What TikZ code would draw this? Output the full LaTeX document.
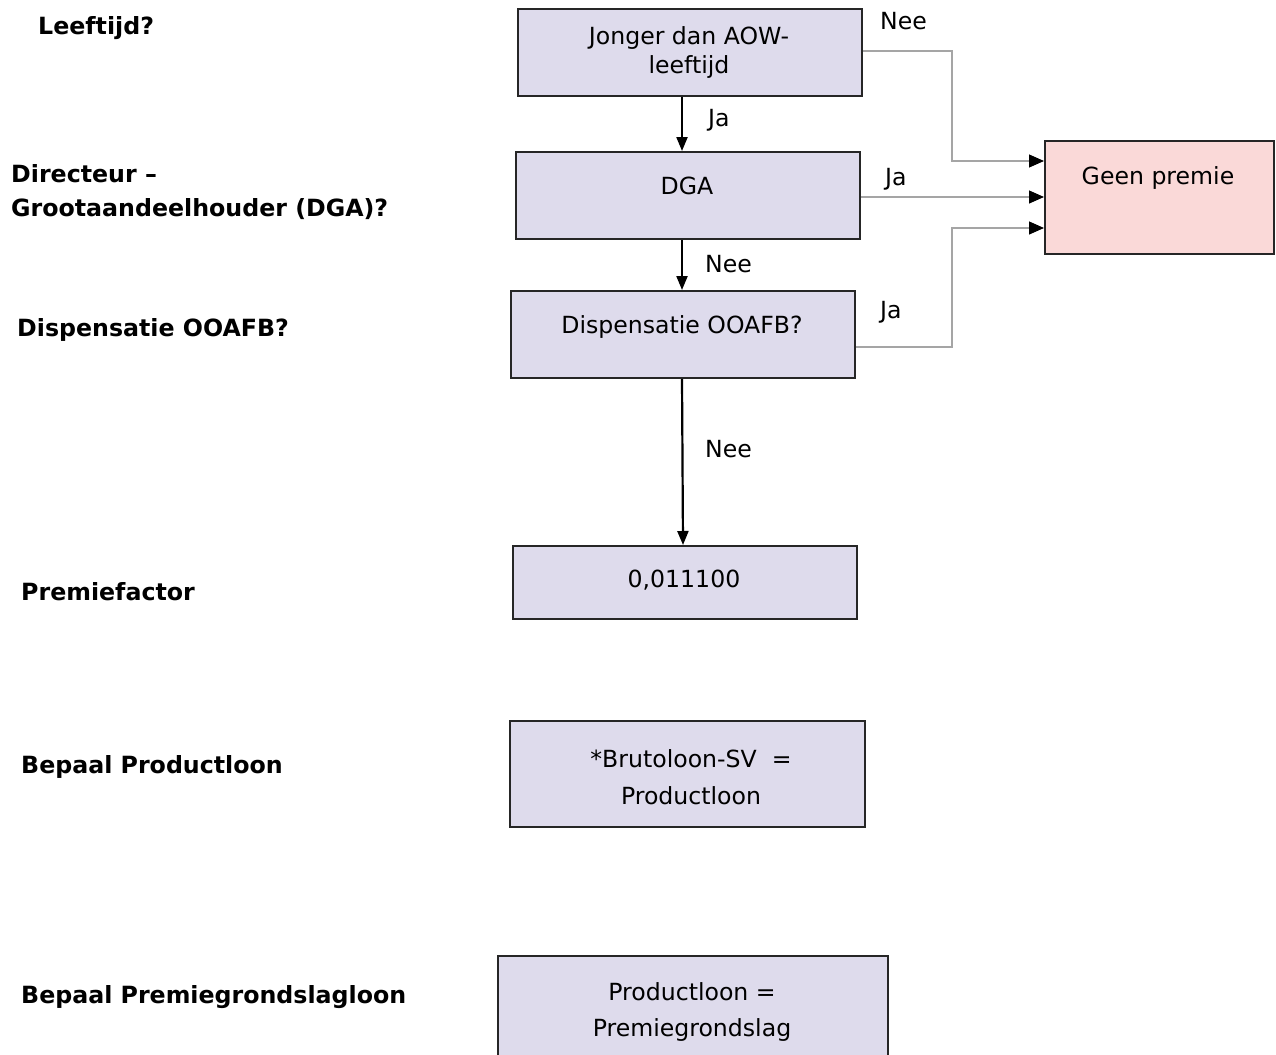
\documentclass[tikz,border=0pt]{standalone}
\usepackage{fontspec}
\setmainfont{DejaVu Sans}
\usetikzlibrary{arrows.meta}
\definecolor{boxfill}{RGB}{222,219,236}
\definecolor{pinkfill}{RGB}{250,217,216}
\definecolor{conn}{RGB}{165,165,165}
\begin{document}
\begin{tikzpicture}[x=1pt,y=-1pt,
  every node/.style={font=\fontsize{23.6}{37}\selectfont},
  box/.style={draw=black!85,line width=2pt,fill=boxfill,anchor=north west,inner sep=0pt},
  pbox/.style={draw=black!85,line width=2pt,fill=pinkfill,anchor=north west,inner sep=0pt},
  txt/.style={align=center,inner sep=0pt},
  side/.style={anchor=west,inner sep=0pt,font=\fontsize{23.7}{34}\selectfont\bfseries,align=left},
  lab/.style={anchor=west,inner sep=0pt},
  main/.style={line width=2.2pt,-{Triangle[length=14pt,width=11pt]}},
  grey/.style={draw=conn,line width=1.2pt,-{Triangle[length=15pt,width=13pt,black]}}
]
\clip (0,0) rectangle (1276,1054);
\fill[white] (0,0) rectangle (1276,1054);
% boxes
\node[box,minimum width=344pt,minimum height=87pt] (b1) at (517,8) {};
\node[box,minimum width=344pt,minimum height=87pt] (b2) at (515,151) {};
\node[box,minimum width=344pt,minimum height=87pt] (b3) at (510,290) {};
\node[box,minimum width=344pt,minimum height=73pt] (b4) at (512,545) {};
\node[box,minimum width=355pt,minimum height=106pt] (b5) at (509,720) {};
\node[box,minimum width=390pt,minimum height=120pt] (b6) at (497,955) {};
\node[pbox,minimum width=229pt,minimum height=113pt] (gp) at (1044,140) {};
% box texts
\node[txt,font=\fontsize{23.6}{29}\selectfont] (t1) at (689,52) {Jonger dan AOW-\\leeftijd};
\node[txt] (t2) at (687,186) {DGA};
\node[txt] (t3) at (682,327) {Dispensatie OOAFB?};
\node[txt] (t4) at (684,580) {0,011100};
\node[txt] (t5) at (691,777) {*Brutoloon-SV \ =\\Productloon};
\node[txt,font=\fontsize{23.6}{36}\selectfont] (t6) at (692,1012) {Productloon =\\Premiegrondslag};
\node[txt] (t7) at (1158,178) {Geen premie};
% main arrows
\draw[main] (b1.south -| 682,0) -- (b2.north -| 682,0);
\draw[main] (b2.south -| 682,0) -- (b3.north -| 682,0);
\draw[main] (b3.south -| 682,0) -- (b4.north -| 683,0);
% grey connectors
\draw[grey] ([yshift=1.5pt]b1.east) -| (952,125) |- ([yshift=36.5pt]gp.west);
\draw[grey] ([yshift=-1.5pt]b2.east) -- ([yshift=0.5pt]gp.west);
\draw[grey] ([yshift=-12.5pt]b3.east) -| (952,260) |- ([yshift=-30.5pt]gp.west);
% connector labels
\node[lab] (l1) at (708,120) {Ja};
\node[lab] (l2) at (705,264) {Nee};
\node[lab] (l3) at (705,449) {Nee};
\node[lab] (l4) at (880,21) {Nee};
\node[lab] (l5) at (885,179) {Ja};
\node[lab] (l6) at (880,312) {Ja};
% side labels
\node[side] (s1) at (38,28) {Leeftijd?};
\node[side] (s2) at (11,192) {Directeur –\\Grootaandeelhouder (DGA)?};
\node[side] (s3) at (17,330) {Dispensatie OOAFB?};
\node[side] (s4) at (21,592) {Premiefactor};
\node[side] (s5) at (21,767) {Bepaal Productloon};
\node[side] (s6) at (21,997) {Bepaal Premiegrondslagloon};
\end{tikzpicture}
\end{document}
